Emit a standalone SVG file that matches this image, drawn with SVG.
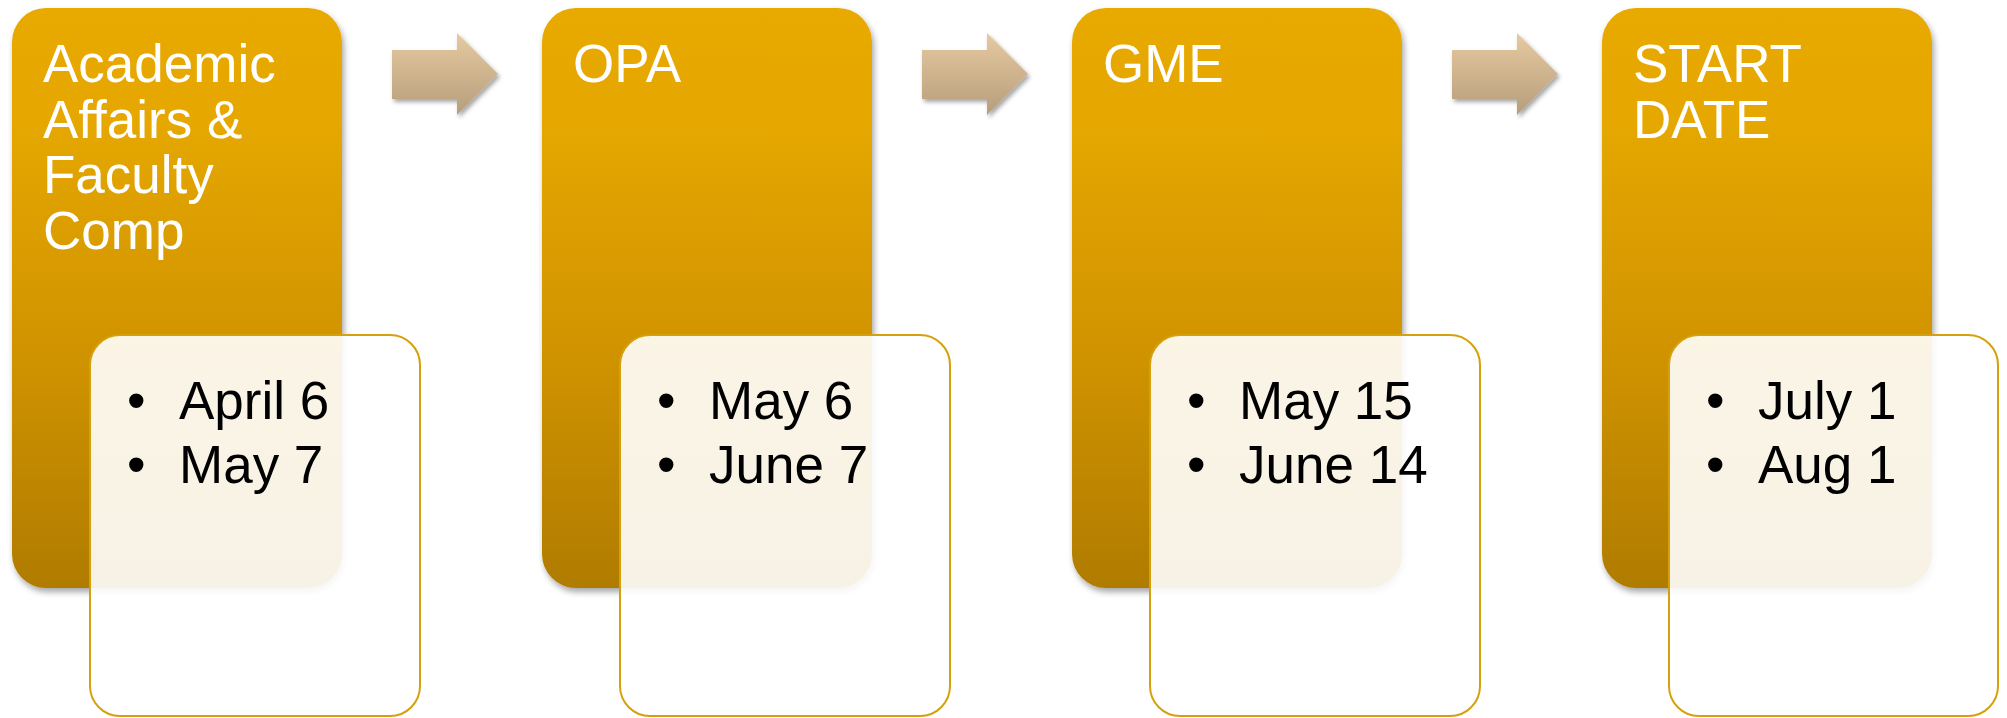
<svg xmlns="http://www.w3.org/2000/svg" width="2007" height="718" viewBox="0 0 2007 718">
<style>
.title{font-family:"Liberation Sans",Arial,sans-serif;font-size:53px;fill:#ffffff}
.date{font-family:"Liberation Sans",Arial,sans-serif;font-size:53px;fill:#000000}
.gold{fill:url(#goldGrad);filter:url(#shadow)}
.card{fill:#ffffff;fill-opacity:0.9;stroke:#d4a00c;stroke-width:2}
.arrow{fill:url(#arrowGrad);filter:url(#ashadow)}
</style>
<defs>
<linearGradient id="goldGrad" x1="0" y1="0" x2="0" y2="1">
<stop offset="0" stop-color="#e8a900"/>
<stop offset="0.2" stop-color="#e5a700"/>
<stop offset="0.6" stop-color="#d09300"/>
<stop offset="1" stop-color="#b07c00"/>
</linearGradient>
<linearGradient id="arrowGrad" x1="0" y1="0" x2="0" y2="1">
<stop offset="0" stop-color="#e6caa0"/>
<stop offset="1" stop-color="#b69d7c"/>
</linearGradient>
<filter id="shadow" x="-10%" y="-10%" width="120%" height="120%">
<feDropShadow dx="2" dy="4" stdDeviation="3" flood-color="#000" flood-opacity="0.35"/>
</filter>
<filter id="ashadow" x="-20%" y="-20%" width="140%" height="140%">
<feDropShadow dx="2" dy="3" stdDeviation="2" flood-color="#000" flood-opacity="0.35"/>
</filter>
</defs>
<rect width="2007" height="718" fill="#ffffff"/>

<g id="step1">
<rect class="gold" x="12" y="8" width="330" height="580" rx="34"/>
<text class="title" x="43" y="82">Academic</text>
<text class="title" x="43" y="137.5">Affairs &amp;</text>
<text class="title" x="43" y="193">Faculty</text>
<text class="title" x="43" y="248.5">Comp</text>
</g>
<g id="step2">
<rect class="gold" x="542" y="8" width="330" height="580" rx="34"/>
<text class="title" x="573" y="82">OPA</text>
</g>
<g id="step3">
<rect class="gold" x="1072" y="8" width="330" height="580" rx="34"/>
<text class="title" x="1103" y="82">GME</text>
</g>
<g id="step4">
<rect class="gold" x="1602" y="8" width="330" height="580" rx="34"/>
<text class="title" x="1633" y="82">START</text>
<text class="title" x="1633" y="137.5">DATE</text>
</g>

<g id="connectors">
<path class="arrow" d="M392,50 H457 V33 L498,74 L457,115 V99 H392 Z"/>
<path class="arrow" d="M922,50 H987 V33 L1028,74 L987,115 V99 H922 Z"/>
<path class="arrow" d="M1452,50 H1517 V33 L1558,74 L1517,115 V99 H1452 Z"/>
</g>

<g id="dates1">
<rect class="card" x="90" y="335" width="330" height="381" rx="30"/>
<text class="date" x="127" y="419">•</text>
<text class="date" x="179" y="419">April 6</text>
<text class="date" x="127" y="483">•</text>
<text class="date" x="179" y="483">May 7</text>
</g>
<g id="dates2">
<rect class="card" x="620" y="335" width="330" height="381" rx="30"/>
<text class="date" x="657" y="419">•</text>
<text class="date" x="709" y="419">May 6</text>
<text class="date" x="657" y="483">•</text>
<text class="date" x="709" y="483">June 7</text>
</g>
<g id="dates3">
<rect class="card" x="1150" y="335" width="330" height="381" rx="30"/>
<text class="date" x="1187" y="419">•</text>
<text class="date" x="1239" y="419">May 15</text>
<text class="date" x="1187" y="483">•</text>
<text class="date" x="1239" y="483">June 14</text>
</g>
<g id="dates4">
<rect class="card" x="1669" y="335" width="329" height="381" rx="30"/>
<text class="date" x="1706" y="419">•</text>
<text class="date" x="1758" y="419">July 1</text>
<text class="date" x="1706" y="483">•</text>
<text class="date" x="1758" y="483">Aug 1</text>
</g>
</svg>
